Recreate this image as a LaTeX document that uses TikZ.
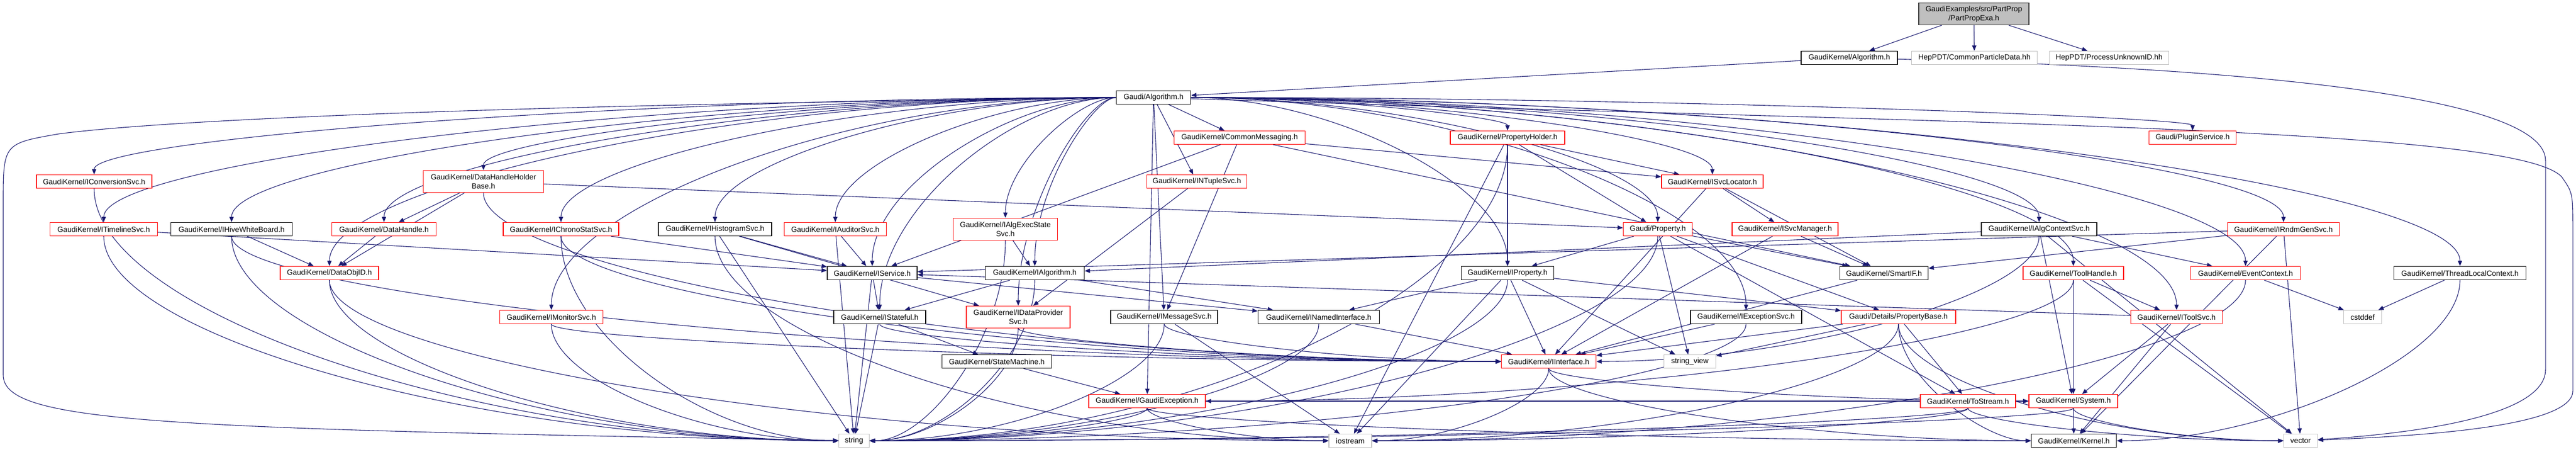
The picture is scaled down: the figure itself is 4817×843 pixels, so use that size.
\documentclass[tikz,border=0pt]{standalone}
\usepackage{fontspec}
\setmainfont{Liberation Sans}
\usetikzlibrary{arrows.meta}
\usetikzlibrary{calc}
\usetikzlibrary{positioning}

\definecolor{edgeblue}{RGB}{25,25,112}
\definecolor{sysgray}{RGB}{191,191,191}

\pgfdeclarelayer{edges}
\pgfsetlayers{edges,main}

\tikzset{
	nodebox/.style={rectangle, draw, line width=0.7pt, fill=white, inner xsep=2pt, inner ysep=0pt,
		minimum height=12.5pt, align=center, font=\fontsize{7pt}{8.4pt}\selectfont},
	fullnode/.style={nodebox, draw=black},
	cutnode/.style={nodebox, draw=red},
	sysnode/.style={nodebox, draw=sysgray},
	rootnode/.style={nodebox, draw=black!80, fill=sysgray},
	twoline/.style={minimum height=20.5pt},
	wd/.style={minimum width=#1pt},
	dep/.style={draw=edgeblue, line width=0.55pt, -{Triangle[length=5pt,width=4pt]}},
	swoop/.style={to path={.. controls
		(perpendicular cs: horizontal line through={(\tikztostart)}, vertical line through={($(\tikztostart)!0.5!(\tikztotarget)$)})
		and (perpendicular cs: horizontal line through={($(\tikztostart)!0.5!(\tikztotarget)$)}, vertical line through={(\tikztotarget)})
		.. (\tikztotarget) \tikztonodes}},
	dive/.style={to path={.. controls
		(perpendicular cs: horizontal line through={($(\tikztostart)!0.5!(\tikztotarget)$)}, vertical line through={(\tikztostart)})
		and (perpendicular cs: horizontal line through={(\tikztotarget)}, vertical line through={($(\tikztostart)!0.5!(\tikztotarget)$)})
		.. (\tikztotarget) \tikztonodes}},
}

\begin{document}
\begin{tikzpicture}[x=0.5pt, y=-0.5pt]
	\useasboundingbox (0,0) rectangle (4817,843);

	% row 0 and 1
	\node[rootnode, twoline, wd=103] (root) at (3691,26) {GaudiExamples/src/PartProp\\/PartPropExa.h};
	\node[fullnode, wd=90] (kalg) at (3458,108) {GaudiKernel/Algorithm.h};
	\node[sysnode, wd=117.5] (hcpd) at (3692,108) {HepPDT/CommonParticleData.hh};
	\node[sysnode, wd=111.5] (hpuid) at (3944,108) {HepPDT/ProcessUnknownID.hh};
	\node[fullnode, wd=69.5] (galg) at (2157,182) {Gaudi/Algorithm.h};

	% row 2
	\node[cutnode, wd=108] (icnv) at (176,339) {GaudiKernel/IConversionSvc.h};
	\node[cutnode, twoline, wd=112.5] (dhhb) at (904,339) {GaudiKernel/DataHandleHolder\\Base.h};
	\node[cutnode, wd=122.5] (cmsg) at (2318,257) {GaudiKernel/CommonMessaging.h};
	\node[cutnode, wd=93.5] (ntup) at (2238,339) {GaudiKernel/INTupleSvc.h};
	\node[cutnode, wd=107] (pholder) at (2819,257) {GaudiKernel/PropertyHolder.h};
	\node[cutnode, wd=95] (isloc) at (3202,339) {GaudiKernel/ISvcLocator.h};
	\node[cutnode, wd=81.5] (plugin) at (4100,257) {Gaudi/PluginService.h};

	% row 3
	\node[cutnode, wd=100.5] (itl) at (194,428) {GaudiKernel/ITimelineSvc.h};
	\node[fullnode, wd=113.5] (ihwb) at (433,428) {GaudiKernel/IHiveWhiteBoard.h};
	\node[cutnode, wd=97.5] (dh) at (718,428) {GaudiKernel/DataHandle.h};
	\node[cutnode, wd=108] (ichr) at (1049,428) {GaudiKernel/IChronoStatSvc.h};
	\node[fullnode, wd=106] (ihist) at (1337,428) {GaudiKernel/IHistogramSvc.h};
	\node[cutnode, wd=95.5] (iaud) at (1562,428) {GaudiKernel/IAuditorSvc.h};
	\node[cutnode, twoline, wd=97.5] (iaes) at (1880,428) {GaudiKernel/IAlgExecState\\Svc.h};
	\node[cutnode, wd=64.5] (prop) at (3100,428) {Gaudi/Property.h};
	\node[cutnode, wd=99] (ismgr) at (3338,428) {GaudiKernel/ISvcManager.h};
	\node[fullnode, wd=108] (iactx) at (3813,428) {GaudiKernel/IAlgContextSvc.h};
	\node[cutnode, wd=104.5] (irnd) at (4270,428) {GaudiKernel/IRndmGenSvc.h};

	% row 4
	\node[cutnode, wd=92] (doid) at (616,510) {GaudiKernel/DataObjID.h};
	\node[fullnode, wd=84] (isvc) at (1631,510) {GaudiKernel/IService.h};
	\node[fullnode, wd=92.5] (ialgo) at (1935,510) {GaudiKernel/IAlgorithm.h};
	\node[fullnode, wd=86.5] (iprop) at (2819,510) {GaudiKernel/IProperty.h};
	\node[fullnode, wd=82.5] (smart) at (3523,510) {GaudiKernel/SmartIF.h};
	\node[cutnode, wd=94] (thand) at (3877,510) {GaudiKernel/ToolHandle.h};
	\node[cutnode, wd=102.5] (evctx) at (4199,510) {GaudiKernel/EventContext.h};
	\node[fullnode, wd=123.5] (tlctx) at (4600,510) {GaudiKernel/ThreadLocalContext.h};

	% row 5
	\node[cutnode, wd=96.5] (imon) at (1031,592) {GaudiKernel/IMonitorSvc.h};
	\node[fullnode, wd=86] (istat) at (1645,592) {GaudiKernel/IStateful.h};
	\node[cutnode, twoline, wd=97] (idps) at (1904,592) {GaudiKernel/IDataProvider\\Svc.h};
	\node[fullnode, wd=100] (imsg) at (2177,592) {GaudiKernel/IMessageSvc.h};
	\node[fullnode, wd=113.5] (inamed) at (2466,592) {GaudiKernel/INamedInterface.h};
	\node[fullnode, wd=104] (iexc) at (3265,592) {GaudiKernel/IExceptionSvc.h};
	\node[cutnode, wd=107] (pbase) at (3550,592) {Gaudi/Details/PropertyBase.h};
	\node[cutnode, wd=85.5] (itool) at (4070,592) {GaudiKernel/IToolSvc.h};
	\node[sysnode, wd=35.5] (cstd) at (4418,592) {cstddef};

	% row 6 and 7
	\node[fullnode, wd=102.5] (smach) at (1864,675) {GaudiKernel/StateMachine.h};
	\node[cutnode, wd=88.5] (iint) at (2896,675) {GaudiKernel/IInterface.h};
	\node[sysnode, wd=48.5] (sview) at (3160,675) {string\_view};
	\node[cutnode, wd=109] (gexc) at (2145,749) {GaudiKernel/GaudiException.h};
	\node[cutnode, wd=89] (tostr) at (3680,749) {GaudiKernel/ToStream.h};
	\node[cutnode, wd=83] (sys) at (3877,749) {GaudiKernel/System.h};
	\node[sysnode, wd=28.5] (str) at (1597,823) {string};
	\node[sysnode, wd=40] (iostr) at (2525,823) {iostream};
	\node[fullnode, wd=79.5] (kern) at (3878,823) {GaudiKernel/Kernel.h};
	\node[sysnode, wd=31.5] (vec) at (4302,823) {vector};

	\begin{pgfonlayer}{edges}
	\foreach \a/\b in {root/kalg, root/hcpd, root/hpuid, kalg/galg,
		galg/ntup, galg/cmsg, galg/imsg, galg/gexc,
		itl/isvc, ihwb/doid, dh/doid, dhhb/dh, dhhb/doid, dhhb/prop,
		ichr/isvc, ihist/isvc, ihist/idps, ihist/str, iaud/isvc, iaud/str,
		iaes/ialgo, isvc/istat, isvc/str, isvc/inamed, ialgo/istat, ialgo/inamed,
		istat/smach, istat/str, imsg/iostr, smach/gexc, ntup/idps,
		cmsg/isvc, cmsg/isloc, cmsg/imsg, cmsg/smart,
		pholder/iprop, pholder/prop, pholder/isloc, pholder/iostr,
		isloc/ismgr, isloc/smart, isloc/iint,
		prop/iprop, prop/sview, prop/smart, prop/pbase, prop/tostr,
		ismgr/smart, ismgr/iint,
		iprop/inamed, iprop/iint, iprop/sview, iprop/iostr, iprop/pbase,
		smart/iint, inamed/iint, iexc/iint, pbase/iint, pbase/sview, pbase/tostr,
		iactx/ialgo, iactx/evctx, iactx/sys, iactx/vec,
		irnd/isvc, irnd/smart, irnd/vec, irnd/kern,
		thand/itool, thand/vec, thand/sys,
		evctx/cstd, tlctx/cstd,
		itool/sys, itool/kern, itool/isvc, sys/kern}
		\draw[dep] (\a) -- (\b);

	\foreach \b in {icnv, itl, ihwb, dh, dhhb, doid, ichr, imon, ihist, iaud, iaes, isvc, ialgo,
		istat, idps, pholder, isloc, prop, iprop, plugin, iactx, irnd, thand, evctx, tlctx, itool, iexc}
		\draw[dep] (galg) to[swoop] (\b);

	\foreach \a/\b in {icnv/str, itl/str, ihwb/str, ichr/str, imon/str, doid/str, iaes/str, ialgo/str,
		idps/str, imsg/str, gexc/str, inamed/str, iprop/str, pholder/str, prop/str, tostr/str,
		sys/str, iexc/str,
		doid/iostr, iint/iostr, pbase/iostr, tostr/iostr, gexc/iostr, evctx/iostr, ihist/iostr,
		tostr/vec, sys/vec, pbase/vec,
		iint/kern, tlctx/kern, gexc/kern, pbase/kern, iint/sys, gexc/sys,
		ihwb/iint, dhhb/iint, imon/iint, istat/iint, idps/iint, imsg/iint, iactx/iint, ichr/iint,
		thand/gexc}
		\draw[dep] (\a) to[dive] (\b);

	% long routes round the sides
	\draw[dep] (galg) .. controls (900,196) and (300,225) .. (110,250)
		.. controls (6,268) .. (6,380) -- (6,700) .. controls (6,790) and (300,800) .. (str);
	\draw[dep] (galg) .. controls (3600,230) and (4700,235) .. (4790,330)
		.. controls (4811,360) .. (4811,430) -- (4811,730) .. controls (4811,800) and (4500,815) .. (vec);
	\draw[dep] (kalg) .. controls (4300,130) and (4760,190) .. (4760,300)
		-- (4760,690) .. controls (4760,780) and (4500,810) .. (vec);
	\end{pgfonlayer}
\end{tikzpicture}
\end{document}
